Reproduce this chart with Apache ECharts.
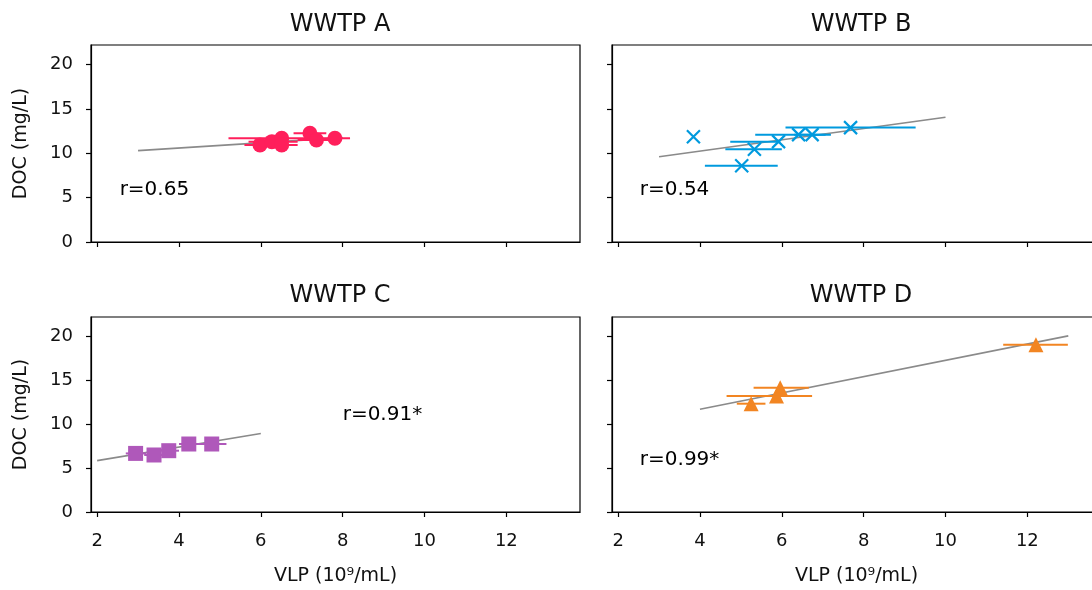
<!DOCTYPE html>
<html>
<head>
<meta charset="utf-8">
<script src="https://cdn.jsdelivr.net/npm/echarts@6/dist/echarts.min.js"></script>
<style>
  html, body { margin: 0; padding: 0; background: #fff; overflow: hidden; }
  #chart { width: 1120px; height: 590px; }
</style>
</head>
<body>
<div id="chart"></div>
<script>
// panel titles and tick labels
const panelTitles = ['WWTP A', 'WWTP B', 'WWTP C', 'WWTP D']
const xTicks = [2, 4, 6, 8, 10, 12]
const yTicks = [0, 5, 10, 15, 20]

// WWTP A
const aVlp = [5.98, 6.27, 6.51, 6.51, 7.2, 7.36, 7.81]
const aDoc = [10.94, 11.31, 11.69, 10.94, 12.25, 11.5, 11.69]
const aLo = [5.6, 5.7, 5.21, 6.1, 6.8, 6.9, 7.4]
const aHi = [6.4, 6.9, 7.5, 6.9, 7.6, 7.8, 8.18]
const aFitX = [3, 8]
const aFitY = [10.3, 11.76]

// WWTP B
const bVlp = [3.84, 5.02, 5.33, 5.92, 6.41, 6.74, 7.68]
const bDoc = [11.87, 8.6, 10.45, 11.31, 12.1, 12.1, 12.89]
const bLo = [3.84, 4.12, 4.62, 4.74, 5.35, 6.3, 6.09]
const bHi = [3.84, 5.9, 6.0, 5.96, 7.07, 7.2, 9.27]
const bFitX = [3, 10]
const bFitY = [9.6, 14.06]

// WWTP C
const cVlp = [2.94, 3.39, 3.75, 4.24, 4.8]
const cDoc = [6.67, 6.49, 6.98, 7.74, 7.74]
const cLo = [2.7, 3.15, 3.5, 4.0, 4.45]
const cHi = [3.2, 3.6, 4.0, 4.5, 5.16]
const cFitX = [2, 6]
const cFitY = [5.85, 8.94]

// WWTP D
const dVlp = [5.25, 5.87, 5.96, 12.21]
const dDoc = [12.33, 13.2, 14.14, 19.05]
const dLo = [4.9, 4.65, 5.31, 11.41]
const dHi = [5.6, 6.74, 6.66, 12.99]
const dFitX = [4, 13]
const dFitY = [11.7, 20.05]

// correlation notes: text, x, y
const notes = [
  ['r=0.65', 2.55, 5.9],
  ['r=0.54', 2.53, 5.9],
  ['r=0.91*', 8.0, 11.1],
  ['r=0.99*', 2.53, 6.0]
]

const colors = ['#FF1F5B', '#009ADE', '#AF58BA', '#F28522']
const symbols = ['circle', 'path://M0,0L10,10M0,10L10,0', 'rect', 'triangle']
const symbolSizes = [15, 13, 15, 15]
const font = 'DejaVu Sans'

const panels = [
  { vlp: aVlp, doc: aDoc, lo: aLo, hi: aHi, fx: aFitX, fy: aFitY },
  { vlp: bVlp, doc: bDoc, lo: bLo, hi: bHi, fx: bFitX, fy: bFitY },
  { vlp: cVlp, doc: cDoc, lo: cLo, hi: cHi, fx: cFitX, fy: cFitY },
  { vlp: dVlp, doc: dDoc, lo: dLo, hi: dHi, fx: dFitX, fy: dFitY }
]

// right column runs past the 1092px window, as in the cropped original
const grids = [
  { left: 91, top: 45, width: 489, height: 197 },
  { left: 612, top: 45, width: 489, height: 197 },
  { left: 91, top: 317, width: 489, height: 195 },
  { left: 612, top: 317, width: 489, height: 195 }
]

const axisLine = { show: true, onZero: false, lineStyle: { color: '#000', width: 1.2 } }
const axisTick = (vals) => ({ show: true, inside: false, length: 5, customValues: vals, lineStyle: { color: '#000', width: 1.2 } })

const xAxis = grids.map((g, i) => ({
  type: 'value',
  gridIndex: i,
  min: 1.85,
  max: 13.8,
  axisLine,
  axisTick: axisTick(xTicks),
  axisLabel: { show: i >= 2, customValues: xTicks, margin: 20, color: '#111', fontSize: 18, fontFamily: font },
  splitLine: { show: false },
  name: i >= 2 ? 'VLP (10\u2079/mL)' : '',
  nameLocation: 'middle',
  nameGap: 55,
  nameTextStyle: { color: '#111', fontSize: 19, fontFamily: font }
}))

const yAxis = grids.map((g, i) => ({
  type: 'value',
  gridIndex: i,
  min: 0,
  max: 22.2,
  axisLine,
  axisTick: axisTick(yTicks),
  axisLabel: { show: i % 2 === 0, customValues: yTicks, margin: 18, color: '#111', fontSize: 18, fontFamily: font },
  splitLine: { show: false },
  name: i % 2 === 0 ? 'DOC (mg/L)' : '',
  nameLocation: 'middle',
  nameRotate: 90,
  nameGap: 60,
  nameTextStyle: { color: '#111', fontSize: 19, fontFamily: font }
}))

const series = []
panels.forEach((p, i) => {
  series.push({
    type: 'line',
    xAxisIndex: i,
    yAxisIndex: i,
    data: p.fx.map((x, k) => [x, p.fy[k]]),
    symbol: 'none',
    lineStyle: { color: '#8a8a8a', width: 1.6 },
    silent: true,
    z: 1
  })
  series.push({
    type: 'custom',
    xAxisIndex: i,
    yAxisIndex: i,
    data: p.vlp.map((x, k) => [x, p.doc[k], p.lo[k], p.hi[k]]),
    encode: { x: [0, 2, 3], y: 1 },
    renderItem: (params, api) => {
      const a = api.coord([api.value(2), api.value(1)])
      const b = api.coord([api.value(3), api.value(1)])
      return {
        type: 'line',
        shape: { x1: a[0], y1: a[1], x2: b[0], y2: b[1] },
        style: { stroke: colors[i], lineWidth: 2 }
      }
    },
    silent: true,
    z: 2
  })
  const markStyle = i === 1
    ? { color: 'none', borderColor: colors[i], borderWidth: 2.2 }
    : { color: colors[i] }
  series.push({
    type: 'scatter',
    xAxisIndex: i,
    yAxisIndex: i,
    data: p.vlp.map((x, k) => [x, p.doc[k]]),
    symbol: symbols[i],
    symbolSize: symbolSizes[i],
    itemStyle: { ...markStyle, opacity: 1 },
    silent: true,
    z: 3
  })
  series.push({
    type: 'scatter',
    xAxisIndex: i,
    yAxisIndex: i,
    data: [[notes[i][1], notes[i][2]]],
    symbolSize: 0,
    itemStyle: { color: '#000', opacity: 1 },
    label: {
      show: true,
      position: [0, 0],
      align: 'left',
      verticalAlign: 'middle',
      formatter: notes[i][0],
      color: '#000',
      opacity: 1,
      fontSize: 20,
      fontFamily: font
    },
    silent: true,
    z: 4
  })
})

const chart = echarts.init(document.getElementById('chart'), null, { renderer: 'canvas' })
chart.setOption({
  backgroundColor: '#fff',
  animation: false,
  title: panelTitles.map((t, i) => ({
    text: t,
    left: grids[i].left + 244,
    top: i < 2 ? 8 : 279,
    textAlign: 'center',
    textStyle: { color: '#111', fontSize: 24, fontWeight: 'normal', fontFamily: font }
  })),
  grid: grids.map(g => ({ ...g, show: true, borderColor: '#000', borderWidth: 1.2, backgroundColor: 'transparent' })),
  xAxis,
  yAxis,
  series
})
</script>
</body>
</html>
